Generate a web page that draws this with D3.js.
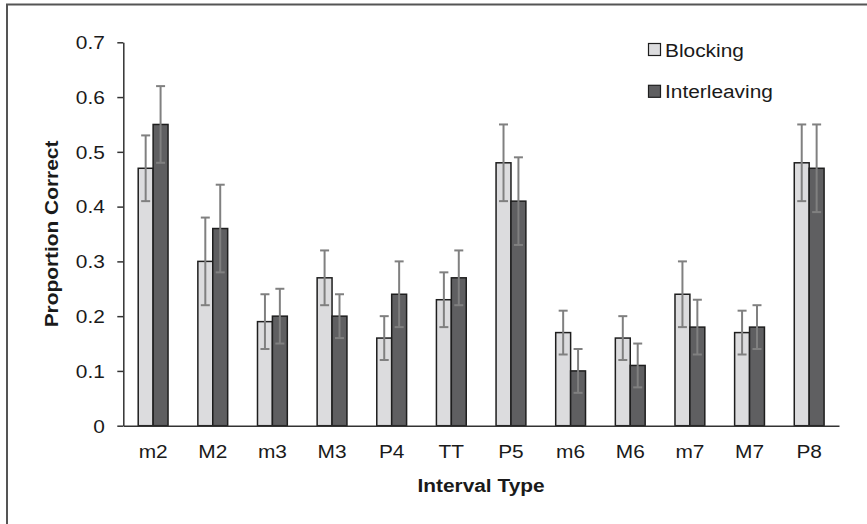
<!DOCTYPE html>
<html lang="en">
<head>
<meta charset="UTF-8">
<title>Proportion Correct by Interval Type</title>
<script src="https://d3js.org/d3.v7.min.js"></script>
<style>
    html, body { margin: 0; padding: 0; background: #fff; }
    svg { display: block; }
    text { font-family: "Liberation Sans", Arial, sans-serif; fill: #1a1a1a; }
</style>
</head>
<body>
<div id="chart"></div>
<script>
// data
const intervals = ["m2", "M2", "m3", "M3", "P4", "TT", "P5", "m6", "M6", "m7", "M7", "P8"];
const seriesNames = ["Blocking", "Interleaving"];
const blocking      = [0.47, 0.30, 0.19, 0.27, 0.16, 0.23, 0.48, 0.17, 0.16, 0.24, 0.17, 0.48];
const blockingHi    = [0.53, 0.38, 0.24, 0.32, 0.20, 0.28, 0.55, 0.21, 0.20, 0.30, 0.21, 0.55];
const blockingLo    = [0.41, 0.22, 0.14, 0.22, 0.12, 0.18, 0.41, 0.13, 0.12, 0.18, 0.13, 0.41];
const interleaving  = [0.55, 0.36, 0.20, 0.20, 0.24, 0.27, 0.41, 0.10, 0.11, 0.18, 0.18, 0.47];
const interleavingHi = [0.62, 0.44, 0.25, 0.24, 0.30, 0.32, 0.49, 0.14, 0.15, 0.23, 0.22, 0.55];
const interleavingLo = [0.48, 0.28, 0.15, 0.16, 0.18, 0.22, 0.33, 0.06, 0.07, 0.13, 0.14, 0.39];
const yTicks = [0, 0.1, 0.2, 0.3, 0.4, 0.5, 0.6, 0.7];

const W = 867, H = 524;
const SX = 1.16; // text in the figure is a bit wider than plain Arial
const colors = { Blocking: "#dcdcde", Interleaving: "#5f5f61" };

const rows = [];
intervals.forEach((c, i) => {
    rows.push({ cat: c, s: "Blocking", v: blocking[i], hi: blockingHi[i], lo: blockingLo[i] });
    rows.push({ cat: c, s: "Interleaving", v: interleaving[i], hi: interleavingHi[i], lo: interleavingLo[i] });
});

const svg = d3.select("#chart").append("svg")
    .attr("width", W).attr("height", H);

// outer frame (right/bottom sit outside the picture)
svg.append("rect")
    .attr("x", 7).attr("y", 4.5)
    .attr("width", 1000).attr("height", 1000)
    .attr("fill", "none").attr("stroke", "#555").attr("stroke-width", 2);

const x0 = d3.scaleBand().domain(intervals).range([123.3, 839]).paddingInner(0.5).paddingOuter(0.25);
const x1 = d3.scaleBand().domain(seriesNames).range([0, x0.bandwidth()]);
const y = d3.scaleLinear().domain([0, 0.7]).range([425.7, 42.3]);

// bars
const g = svg.append("g");
g.selectAll("rect.bar")
    .data(rows)
    .enter().append("rect")
    .attr("class", "bar")
    .attr("x", d => x0(d.cat) + x1(d.s))
    .attr("y", d => y(d.v))
    .attr("width", x1.bandwidth())
    .attr("height", d => y(0) - y(d.v))
    .attr("fill", d => colors[d.s])
    .attr("stroke", "#1e1e1e")
    .attr("stroke-width", 1.5);

// error bars
const eb = g.selectAll("g.err")
    .data(rows)
    .enter().append("g")
    .attr("class", "err")
    .attr("stroke", "#808080")
    .attr("stroke-width", 2);
const cx = d => x0(d.cat) + x1(d.s) + x1.bandwidth() / 2;
eb.append("line")
    .attr("x1", cx).attr("x2", cx)
    .attr("y1", d => y(d.hi)).attr("y2", d => y(d.lo));
eb.append("line")
    .attr("x1", d => cx(d) - 4.5).attr("x2", d => cx(d) + 4.5)
    .attr("y1", d => y(d.hi)).attr("y2", d => y(d.hi));
eb.append("line")
    .attr("x1", d => cx(d) - 4.5).attr("x2", d => cx(d) + 4.5)
    .attr("y1", d => y(d.lo)).attr("y2", d => y(d.lo));

// y axis
const yAxis = svg.append("g")
    .attr("transform", "translate(123.3,0)")
    .call(d3.axisLeft(y).tickValues(yTicks).tickSize(6).tickSizeOuter(0)
        .tickFormat(d => d === 0 ? "0" : d3.format(".1f")(d)));
yAxis.select(".domain").attr("stroke", "#333").attr("stroke-width", 1.5);
yAxis.selectAll(".tick line").attr("stroke", "#333").attr("stroke-width", 1.5);
yAxis.selectAll(".tick text")
    .attr("x", 0).attr("dy", null).attr("y", 6.3)
    .attr("transform", "translate(-18.5,0) scale(" + SX + ",1)")
    .style("font-size", "18px").attr("fill", "#1a1a1a");

// x axis
const xAxis = svg.append("g")
    .attr("transform", "translate(0," + y(0) + ")")
    .call(d3.axisBottom(x0).tickSize(0).tickSizeOuter(0));
xAxis.select(".domain").attr("stroke", "#333").attr("stroke-width", 1.5);
xAxis.selectAll(".tick text")
    .attr("y", 0).attr("dy", null)
    .attr("transform", "translate(0,32.6) scale(" + SX + ",1)")
    .style("font-size", "18px").attr("fill", "#1a1a1a");

// axis titles
svg.append("text")
    .attr("transform", "translate(481,492) scale(" + SX + ",1)")
    .attr("text-anchor", "middle")
    .style("font-size", "18px").style("font-weight", "bold")
    .text("Interval Type");
svg.append("text")
    .attr("transform", "translate(58.3,234) rotate(-90) scale(" + SX + ",1)")
    .attr("text-anchor", "middle")
    .style("font-size", "18px").style("font-weight", "bold")
    .text("Proportion Correct");

// legend
const legend = svg.append("g").selectAll("g")
    .data(seriesNames)
    .enter().append("g")
    .attr("transform", (d, i) => "translate(648.5," + (43.5 + i * 41.8) + ")");
legend.append("rect")
    .attr("width", 12).attr("height", 12)
    .attr("fill", d => colors[d])
    .attr("stroke", "#1e1e1e").attr("stroke-width", 1.2);
legend.append("text")
    .attr("transform", "translate(16.5,13) scale(" + SX + ",1)")
    .style("font-size", "18px")
    .text(d => d);
</script>
</body>
</html>
